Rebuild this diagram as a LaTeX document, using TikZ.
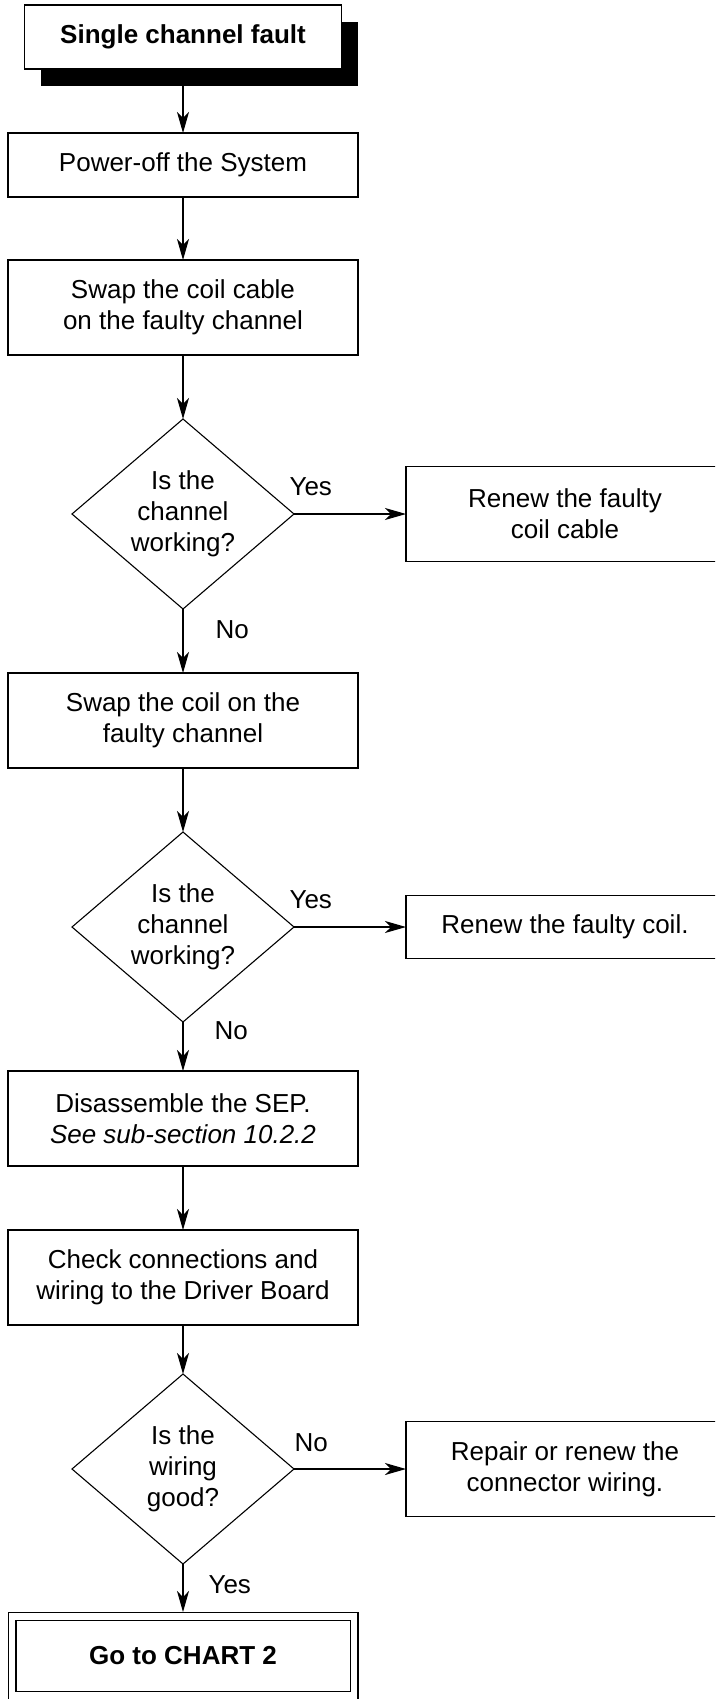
\documentclass[tikz,border=0pt]{standalone}
\usepackage{fontspec}
\setmainfont{Liberation Sans}
\usepackage{tikz}
\usetikzlibrary{arrows.meta,positioning,shapes.geometric,shadows}

\begin{document}
\begin{tikzpicture}[
      x=1pt,y=1pt,
      box/.style={draw,line width=1.1pt,outer sep=0pt,fill=white,minimum width=350pt,minimum height=95pt,align=center,font=\fontsize{26}{31}\selectfont},
      sidebox/.style={box,minimum width=318pt},
      decision/.style={draw,diamond,line width=1.1pt,outer sep=0pt,aspect=1.17,inner sep=0pt,minimum width=222pt,minimum height=190pt,align=center,font=\fontsize{26}{31}\selectfont},
      lbl/.style={inner sep=0pt,font=\fontsize{26}{31}\selectfont},
      arr/.style={-{Stealth[length=21pt,width=12pt,inset=6pt]},line width=1.1pt}
    ]
    \useasboundingbox (0,0) rectangle (715,-1699);
    \clip (0,0) rectangle (715,-1699);

    \node[box,minimum width=317pt,minimum height=64pt,font=\fontsize{26}{31}\selectfont\bfseries,
          general shadow={fill=black,shadow xshift=16pt,shadow yshift=-17pt}] (start) at (183,-37) {Single channel fault};
    \node[box,minimum height=64pt,below=64pt of start] (power) {Power-off the System};
    \node[box,below=63pt of power] (cable) {Swap the coil cable\\on the faulty channel};
    \node[decision,below=64pt of cable] (test1) {Is the\\channel\\working?};
    \node[sidebox,right=112pt of test1] (newcable) {Renew the faulty\\coil cable};
    \node[box,below=64pt of test1] (coil) {Swap the coil on the\\faulty channel};
    \node[decision,below=64pt of coil] (test2) {Is the\\channel\\working?};
    \node[sidebox,minimum height=63pt,right=112pt of test2] (newcoil) {Renew the faulty coil.};
    \node[box,below=49pt of test2] (sep) {Disassemble the SEP.\\\textit{See sub-section 10.2.2}};
    \node[box,below=64pt of sep] (wiring) {Check connections and\\wiring to the Driver Board};
    \node[decision,below=49pt of wiring] (test3) {Is the\\wiring\\good?};
    \node[sidebox,right=112pt of test3] (repair) {Repair or renew the\\connector wiring.};

    % double frame at the end
    \node[draw,double,double distance=6.8pt,line width=1.1pt,outer sep=4.5pt,minimum width=342pt,minimum height=79pt,
          font=\fontsize{26}{31}\selectfont\bfseries,below=48pt of test3] (chart) {Go to CHART 2};

    \draw[arr] (start) -- (power);
    \draw[arr] (power) -- (cable);
    \draw[arr] (cable) -- (test1);
    \draw[arr] (test1) -- node[lbl,pos=0,anchor=south west,xshift=-5pt,yshift=18pt] (yes1) {Yes} (newcable);
    \draw[arr] (test1) -- node[lbl,pos=0,anchor=north west,xshift=32pt,yshift=-11pt] (no1) {No} (coil);
    \draw[arr] (coil) -- (test2);
    \draw[arr] (test2) -- node[lbl,pos=0,anchor=south west,xshift=-5pt,yshift=18pt] (yes2) {Yes} (newcoil);
    \draw[arr] (test2) -- node[lbl,pos=0,anchor=north west,xshift=31pt,yshift=1pt] (no2) {No} (sep);
    \draw[arr] (sep) -- (wiring);
    \draw[arr] (wiring) -- (test3);
    \draw[arr] (test3) -- node[lbl,pos=0,anchor=south west,xshift=0pt,yshift=17pt] (no3) {No} (repair);
    \draw[arr] (test3) -- node[lbl,pos=0,anchor=north west,xshift=25pt,yshift=-11pt] (yes3) {Yes} (chart);

  \end{tikzpicture}
\end{document}
